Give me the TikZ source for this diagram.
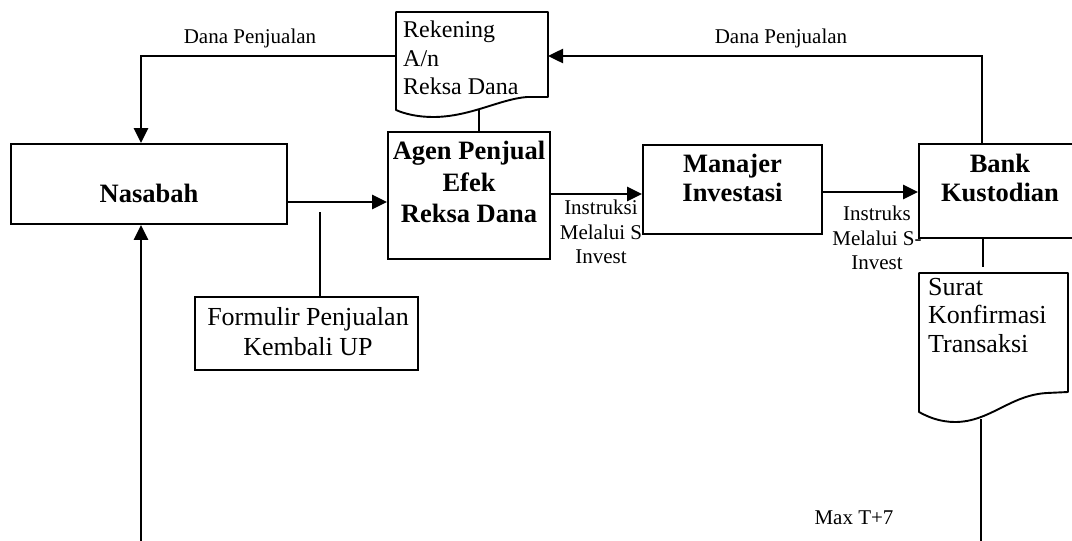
\documentclass[tikz,border=0pt]{standalone}
\usepackage{fontspec}
\setmainfont{Liberation Serif}
\usetikzlibrary{arrows.meta,calc}
\begin{document}
\begin{tikzpicture}[x=1pt,y=-1pt,
  boxst/.style={draw, line width=1.9pt, inner sep=0pt},
  bt/.style={font=\fontsize{26.5}{30}\selectfont\bfseries, align=center, inner sep=0pt},
  rt/.style={font=\fontsize{25}{28.5}\selectfont, inner sep=0pt},
  st/.style={font=\fontsize{21}{24.5}\selectfont, align=center, inner sep=0pt},
  conn/.style={line width=1.9pt},
  arr/.style={line width=2.5pt, -{Triangle[length=15pt,width=14pt]}},
  docst/.style={draw, line width=1.9pt, line join=round},
]
\useasboundingbox (0,0) rectangle (1072,541);

% boxes
\node[boxst, minimum width=276pt, minimum height=80pt] (nas) at (149,184) {};
\node[bt] (nasT) at (149,193) {Nasabah};

\node[boxst, minimum width=162pt, minimum height=127pt] (agen) at (469,195.5) {};
\node[bt, font=\fontsize{26.5}{31.5}\selectfont\bfseries] (agenT) at (469,182) {Agen Penjual\\Efek\\Reksa Dana};

\node[boxst, minimum width=179pt, minimum height=89pt] (man) at (732.5,189.5) {};
\node[bt, font=\fontsize{26.5}{29}\selectfont\bfseries] (manT) at (732.5,177.5) {Manajer\\Investasi};

\node[boxst, minimum width=163pt, minimum height=94pt] (bank) at (1000.5,191) {};
\node[bt, font=\fontsize{26.5}{29}\selectfont\bfseries] (bankT) at (1000,177.5) {Bank\\Kustodian};

\node[boxst, minimum width=223pt, minimum height=73pt] (form) at (306.5,333.5) {};
\node[rt, align=center, font=\fontsize{26}{30}\selectfont] (formT) at (308,332) {Formulir Penjualan\\Kembali UP};

% documents
\draw[docst] (396,12) -- (548,12) -- (548,97) -- (527,97)
  .. controls (500,99) and (470,117) .. (433,117)
  .. controls (418,117) and (405,114) .. (396,110) -- cycle;
\node[rt, align=left, anchor=north west, font=\fontsize{24}{28.5}\selectfont] (rekT) at (403,21) {Rekening\\A/n\\Reksa Dana};

\draw[docst] (919,273) -- (1068,273) -- (1068,392) -- (1047,393)
  .. controls (1010,395) and (990,422) .. (955,422)
  .. controls (940,422) and (928,417) .. (919,412) -- cycle;
\node[rt, align=left, anchor=north west, font=\fontsize{26}{28.5}\selectfont] (surT) at (928,278) {Surat\\Konfirmasi\\Transaksi};

% connection points
\coordinate (rekR) at (548,56);
\coordinate (rekL) at (396,56);
\coordinate (rekB) at (479,110);
\coordinate (topR) at (982,56);
\coordinate (topL) at (141,56);
\coordinate (botL) at (141,541);
\coordinate (surTop) at (983,267);
\coordinate (surB) at (981,419);
\coordinate (botR) at (981,541);
\coordinate (fl) at (320,212);

% connectors
\draw[arr] (bank.north -| topR) -- (topR) -- (rekR);
\draw[arr] (rekL) -- (topL) -- (topL |- nas.north);
\draw[conn] (rekB) -- (rekB |- agen.north);
\draw[arr] (nas.east |- 0,202) -- (agen.west |- 0,202);
\draw[arr] (agen.east |- 0,194) -- (man.west |- 0,194);
\draw[arr] (man.east |- 0,192) -- (bank.west |- 0,192);
\draw[conn] (fl) -- (fl |- form.north);
\draw[conn] (bank.south -| surTop) -- (surTop);
\draw[conn] (surB) -- (botR);
\draw[arr] (botL) -- (botL |- nas.south);

% labels
\node[st] (d1) at (250,38) {Dana Penjualan};
\node[st] (d2) at (781,38) {Dana Penjualan};
\node[st] (l1) at (601,232) {Instruksi\\Melalui S\\Invest};
\node[st] (l2) at (877,238) {Instruks\\Melalui S-\\Invest};
\node[st] (mx) at (854,518) {Max T+7};
\end{tikzpicture}
\end{document}
